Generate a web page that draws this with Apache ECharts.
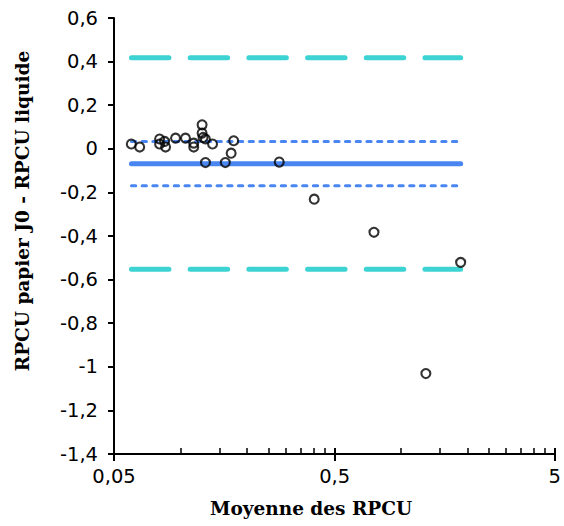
<!DOCTYPE html>
<html>
<head>
<meta charset="utf-8">
<script src="https://cdn.jsdelivr.net/npm/echarts@6/dist/echarts.min.js"></script>
<style>
  html, body { margin: 0; padding: 0; background: #fff; }
  #chart { width: 564px; height: 526px; }
</style>
</head>
<body>
<div id="chart"></div>
<script>
// mean of the two RPCU measures (log axis) and their difference
const meanRpcu = [0.0599, 0.0654, 0.0805, 0.0805, 0.0848, 0.0857, 0.0951, 0.1055,
  0.115, 0.115, 0.1255, 0.1255, 0.1268, 0.130, 0.140, 0.130, 0.160, 0.170,
  0.1746, 0.281, 0.405, 0.756, 1.30, 1.87];
const diffRpcu = [0.022, 0.008, 0.045, 0.022, 0.034, 0.008, 0.049, 0.049,
  0.026, 0.008, 0.110, 0.072, 0.052, 0.045, 0.022, -0.063, -0.063, -0.020,
  0.037, -0.061, -0.231, -0.383, -1.031, -0.521];

// bias, its confidence interval and limits of agreement
const lineRange = [0.06, 1.87];
const meanDiff = -0.069;
const ciDiff = [0.034, -0.169];
const limitsAgreement = [0.418, -0.552];

// axis ticks
const xTicks = [0.05, 0.5, 5];
const yTicks = [-1.4, -1.2, -1, -0.8, -0.6, -0.4, -0.2, 0, 0.2, 0.4, 0.6];

const blue = '#4a86f2';
const cyan = '#3dd3d2';
const labelFont = 'DejaVu Sans';
const titleFont = 'DejaVu Serif';

function commaNum(v) {
  return String(v).replace('.', ',');
}

function hLine(y, color, width, dash) {
  return {
    type: 'line',
    xAxisIndex: 0,
    data: [[lineRange[0], y], [lineRange[1], y]],
    symbol: 'none',
    silent: true,
    z: 1,
    lineStyle: { color: color, width: width, type: dash, cap: 'round' }
  };
}

const chart = echarts.init(document.getElementById('chart'), null, { renderer: 'svg' });

const series = [
  hLine(limitsAgreement[0], cyan, 5, [37.5, 21.2]),
  hLine(limitsAgreement[1], cyan, 5, [37.5, 21.2]),
  hLine(ciDiff[0], blue, 3, [4.3, 6.4]),
  hLine(ciDiff[1], blue, 3, [4.3, 6.4]),
  hLine(meanDiff, blue, 5, 'solid'),
  {
    type: 'scatter',
    xAxisIndex: 0,
    data: meanRpcu.map((m, i) => [m, diffRpcu[i]]),
    symbol: 'circle',
    symbolSize: 9,
    z: 5,
    itemStyle: { color: 'rgba(0,0,0,0)', borderColor: '#000', borderWidth: 2.1 }
  }
];

const logAxisBase = {
  type: 'log',
  logBase: 10,
  min: xTicks[0],
  max: xTicks[xTicks.length - 1],
  interval: 1,
  position: 'bottom',
  splitLine: { show: false }
};

chart.setOption({
  animation: false,
  grid: { left: 114, right: 7, top: 18, bottom: 72 },
  xAxis: [
    Object.assign({}, logAxisBase, {
      axisLine: { show: true, onZero: false, lineStyle: { color: '#000', width: 2 } },
      axisTick: { show: true, inside: true, length: 6, lineStyle: { color: '#000', width: 2 } },
      minorTick: { show: true, splitNumber: 9, length: 6, lineStyle: { color: '#000', width: 1.5 } },
      axisLabel: {
        color: '#000', fontFamily: labelFont, fontSize: 19.5, margin: 12,
        formatter: v => commaNum(Number(v.toPrecision(1)))
      }
    }),
    Object.assign({}, logAxisBase, {
      axisLine: { show: false, onZero: false },
      axisTick: { show: true, inside: false, length: 7, lineStyle: { color: '#000', width: 2 } },
      axisLabel: { show: false }
    })
  ],
  yAxis: {
    type: 'value',
    min: yTicks[0],
    max: yTicks[yTicks.length - 1],
    interval: 0.2,
    splitLine: { show: false },
    axisLine: { show: true, onZero: false, lineStyle: { color: '#000', width: 2 } },
    axisTick: { show: true, inside: false, length: 6, lineStyle: { color: '#000', width: 2 } },
    axisLabel: {
      color: '#000', fontFamily: labelFont, fontSize: 19.5, margin: 16,
      formatter: v => commaNum(Number(v.toFixed(1)))
    }
  },
  graphic: [
    {
      type: 'text',
      x: 311, y: 508,
      style: {
        text: 'Moyenne des RPCU', fill: '#000',
        font: 'bold 18.5px "' + titleFont + '"',
        textAlign: 'center', textVerticalAlign: 'middle'
      }
    },
    {
      type: 'text',
      x: 22, y: 211,
      rotation: Math.PI / 2,
      style: {
        text: 'RPCU papier J0 - RPCU liquide', fill: '#000',
        font: 'bold 18.5px "' + titleFont + '"',
        textAlign: 'center', textVerticalAlign: 'middle'
      }
    }
  ],
  series: series
});
</script>
</body>
</html>
